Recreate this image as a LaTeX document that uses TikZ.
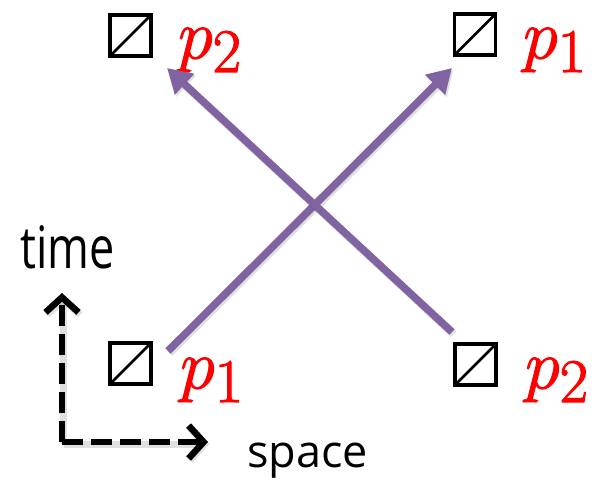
\RequirePackage{fix-cm}
\documentclass[tikz,border=0pt]{standalone}
\usepackage{fontspec}
\newfontfamily\uifont{Open Sans}
\usetikzlibrary{arrows.meta}
\definecolor{flowpurple}{RGB}{128,100,162}
\tikzset{
  cell/.style={draw, line width=3.8pt, minimum size=41pt, inner sep=0pt,
    path picture={\draw[line width=2.8pt]
      (path picture bounding box.south west) -- (path picture bounding box.north east);}},
  plabel/.style={anchor=base west, inner sep=0pt, text=red,
    font=\fontsize{70}{70}\selectfont},
  worldline/.style={draw=flowpurple, line width=7.5pt,
    -{Triangle[length=24pt,width=27pt]},
    preaction={draw=black, opacity=0.12, line width=8pt,
      transform canvas={shift={(1.5pt,-2pt)}}}},
  axisline/.style={line width=6.5pt, dash pattern=on 21pt off 8pt,
    -{Straight Barb[length=15pt,width=33pt]},
    preaction={draw=black, opacity=0.12, line width=7pt,
      transform canvas={shift={(1.5pt,-2pt)}}}},
  axislabel/.style={anchor=base west, inner sep=0pt,
    font=\uifont\fontsize{45}{45}\selectfont}
}
% particle name: italic p with a large lowered index, glyphs filled and lightly stroked
\newcommand{\pname}[1]{\special{pdf:literal direct 2 Tr 1.1 w}%
  $p$\raisebox{-13.6pt}{\fontsize{62}{62}\selectfont #1}%
  \special{pdf:literal direct 0 Tr}}
\begin{document}
\begin{tikzpicture}[x=1pt, y=-1pt]
  \useasboundingbox (0,0) rectangle (593,481);

  % detectors
  \node[cell] (tl) at (130.5,35.5) {};
  \node[cell] (tr) at (475,34.5) {};
  \node[cell] (bl) at (130.5,363.5) {};
  \node[cell] (br) at (475.5,364.5) {};

  % particle labels
  \node[plabel] (ltl) at (178,58.4) {\pname{2}};
  \node[plabel] (ltr) at (523,58.4) {\pname{1}};
  \node[plabel] (lbl) at (180,388.4) {\pname{1}};
  \node[plabel] (lbr) at (525,388.4) {\pname{2}};

  % world-line end points
  \coordinate (s1) at (168,351);
  \coordinate (e1) at (452,68);
  \coordinate (s2) at (452,332);
  \coordinate (e2) at (167,68);

  \draw[worldline] (s1) -- (e1);
  \draw[worldline] (s2) -- (e2);

  % axes
  \coordinate (origin) at (62,442);
  \coordinate (tup) at (62,293);
  \coordinate (xright) at (208,442);
  \draw[axisline] (origin) -- (tup);
  \draw[axisline] (origin) -- (xright);

  \node[axislabel] (time) at (20,268) {\scalebox{1}[1.3]{time}};
  \node[axislabel] (space) at (247,467) {space};
\end{tikzpicture}
\end{document}
